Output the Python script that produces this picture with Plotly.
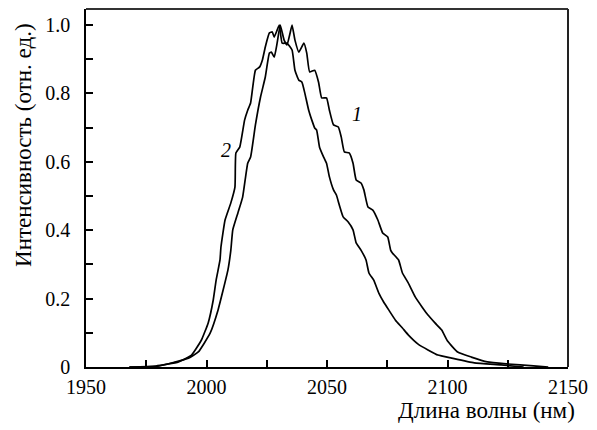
import plotly.graph_objects as go

# Curve 1 (right)
wl1 = [1968.0, 1980.3, 1992.5, 1996.6, 2001.5, 2004.8, 2006.9, 2008.9, 2010.1, 2010.9, 2013.0, 2015.0,
       2017.1, 2018.3, 2020.3, 2022.4, 2024.4, 2026.1, 2026.9, 2028.1, 2029.3, 2030.6, 2032.2, 2033.4,
       2034.7, 2035.5, 2036.7, 2038.3, 2040.4, 2041.6, 2042.8, 2044.9, 2046.5, 2047.8, 2049.8, 2051.0,
       2052.7, 2054.7, 2055.9, 2057.2, 2059.2, 2060.8, 2062.1, 2064.1, 2065.3, 2067.0, 2069.0, 2071.1,
       2073.1, 2075.2, 2076.4, 2077.2, 2079.7, 2081.3, 2083.7, 2086.6, 2089.5, 2091.9, 2094.8, 2097.6,
       2100.1, 2104.2, 2109.9, 2116.5, 2124.6, 2135.7, 2141.8]
int1 = [0.0, 0.003, 0.026, 0.044, 0.099, 0.167, 0.225, 0.284, 0.342, 0.401, 0.450, 0.497,
        0.596, 0.614, 0.708, 0.789, 0.848, 0.918, 0.921, 0.906, 0.947, 1.000, 0.956, 0.942,
        0.977, 1.000, 0.956, 0.921, 0.947, 0.918, 0.863, 0.868, 0.833, 0.787, 0.787, 0.751,
        0.708, 0.702, 0.673, 0.629, 0.626, 0.596, 0.547, 0.538, 0.518, 0.468, 0.459, 0.430,
        0.392, 0.380, 0.342, 0.333, 0.313, 0.275, 0.246, 0.205, 0.175, 0.152, 0.129, 0.108,
        0.075, 0.044, 0.029, 0.015, 0.009, 0.003, 0.0]

# Curve 2 (left)
wl2 = [1968.0, 1979.0, 1988.4, 1993.8, 1997.9, 2000.7, 2002.8, 2004.0, 2005.6, 2006.0, 2007.7, 2010.1,
       2011.8, 2012.2, 2013.8, 2015.8, 2017.1, 2018.3, 2020.3, 2022.0, 2023.2, 2024.4, 2026.1, 2027.3,
       2028.1, 2029.3, 2030.2, 2031.4, 2033.4, 2035.5, 2036.7, 2038.3, 2039.6, 2040.8, 2042.4, 2043.7,
       2044.9, 2045.7, 2046.9, 2048.6, 2049.8, 2051.0, 2052.7, 2053.9, 2055.1, 2056.7, 2058.8, 2060.8,
       2062.1, 2064.1, 2066.2, 2067.4, 2069.4, 2071.5, 2073.5, 2075.6, 2078.4, 2081.3, 2083.7, 2087.8,
       2091.9, 2096.0, 2101.7, 2111.1, 2122.2, 2131.6]
int2 = [0.0, 0.003, 0.015, 0.035, 0.079, 0.129, 0.196, 0.254, 0.313, 0.351, 0.430, 0.480,
        0.526, 0.626, 0.643, 0.722, 0.751, 0.772, 0.868, 0.877, 0.898, 0.936, 0.977, 0.980,
        0.965, 0.985, 1.000, 0.947, 0.947, 0.927, 0.868, 0.839, 0.833, 0.801, 0.751, 0.722,
        0.699, 0.693, 0.643, 0.614, 0.596, 0.556, 0.518, 0.503, 0.474, 0.439, 0.424, 0.401,
        0.363, 0.342, 0.313, 0.275, 0.254, 0.216, 0.190, 0.167, 0.137, 0.114, 0.094, 0.067,
        0.050, 0.035, 0.026, 0.012, 0.006, 0.0]

x_tickvals = [1950, 2000, 2050, 2100, 2150]
x_ticktext = ["1950", "2000", "2050", "2100", "2150"]
y_tickvals = [0, 0.2, 0.4, 0.6, 0.8, 1.0]
y_ticktext = ["0", "0.2", "0.4", "0.6", "0.8", "1.0"]

FONT = "Liberation Serif, 'Times New Roman', Times, 'DejaVu Serif', serif"
FS = 20
FT = 23

fig = go.Figure()
fig.add_trace(go.Scatter(x=wl1, y=int1, mode="lines", line=dict(color="black", width=1.7, shape="spline", smoothing=0.4), showlegend=False))
fig.add_trace(go.Scatter(x=wl2, y=int2, mode="lines", line=dict(color="black", width=1.7, shape="spline", smoothing=0.4), showlegend=False))

fig.update_layout(
    width=597, height=430,
    margin=dict(l=86, r=22, t=9, b=63),
    paper_bgcolor="white", plot_bgcolor="white",
    font=dict(family=FONT, size=FS, color="black"),
    xaxis=dict(range=[1950, 2150], tickvals=x_tickvals, ticktext=x_ticktext,
               ticks="inside", ticklen=7, tickwidth=1.5, tickcolor="black",
               minor=dict(dtick=25, tick0=1950, ticks="inside", ticklen=7, tickwidth=1.5, tickcolor="black"),
               showline=True, linecolor="black", linewidth=1.5, mirror=False,
               showgrid=False, zeroline=False, ticklabelstandoff=1),
    yaxis=dict(range=[0, 1.047], tickvals=y_tickvals, ticktext=y_ticktext,
               ticks="inside", ticklen=7, tickwidth=1.5, tickcolor="black",
               minor=dict(dtick=0.1, tick0=0, ticks="inside", ticklen=7, tickwidth=1.5, tickcolor="black"),
               showline=True, linecolor="black", linewidth=1.5, mirror=False,
               showgrid=False, zeroline=False, ticklabelstandoff=10),
    shapes=[
        dict(type="line", xref="paper", yref="paper", x0=0, x1=1, y0=1, y1=1,
             line=dict(color="#333333", width=2)),
        dict(type="line", xref="paper", yref="paper", x0=1, x1=1, y0=0, y1=1,
             line=dict(color="#222222", width=2)),
    ],
    annotations=[
        dict(text="Длина волны (нм)", xref="paper", yref="paper", x=1.018, y=-0.122,
             xanchor="right", yanchor="middle", showarrow=False, font=dict(family=FONT, size=FT)),
        dict(text="Интенсивность (отн. ед.)", xref="paper", yref="paper", x=-0.131, y=0.62,
             xanchor="center", yanchor="middle", textangle=-90, showarrow=False, font=dict(family=FONT, size=FT)),
        dict(text="<i>1</i>", x=2062.5, y=0.74, xref="x", yref="y", showarrow=False, font=dict(family=FONT, size=FS)),
        dict(text="<i>2</i>", x=2008.0, y=0.636, xref="x", yref="y", showarrow=False, font=dict(family=FONT, size=FS)),
    ],
)

fig.write_html("out.html", config={"displayModeBar": False},
               post_script="document.body.style.margin='0';document.body.style.overflow='hidden';")
